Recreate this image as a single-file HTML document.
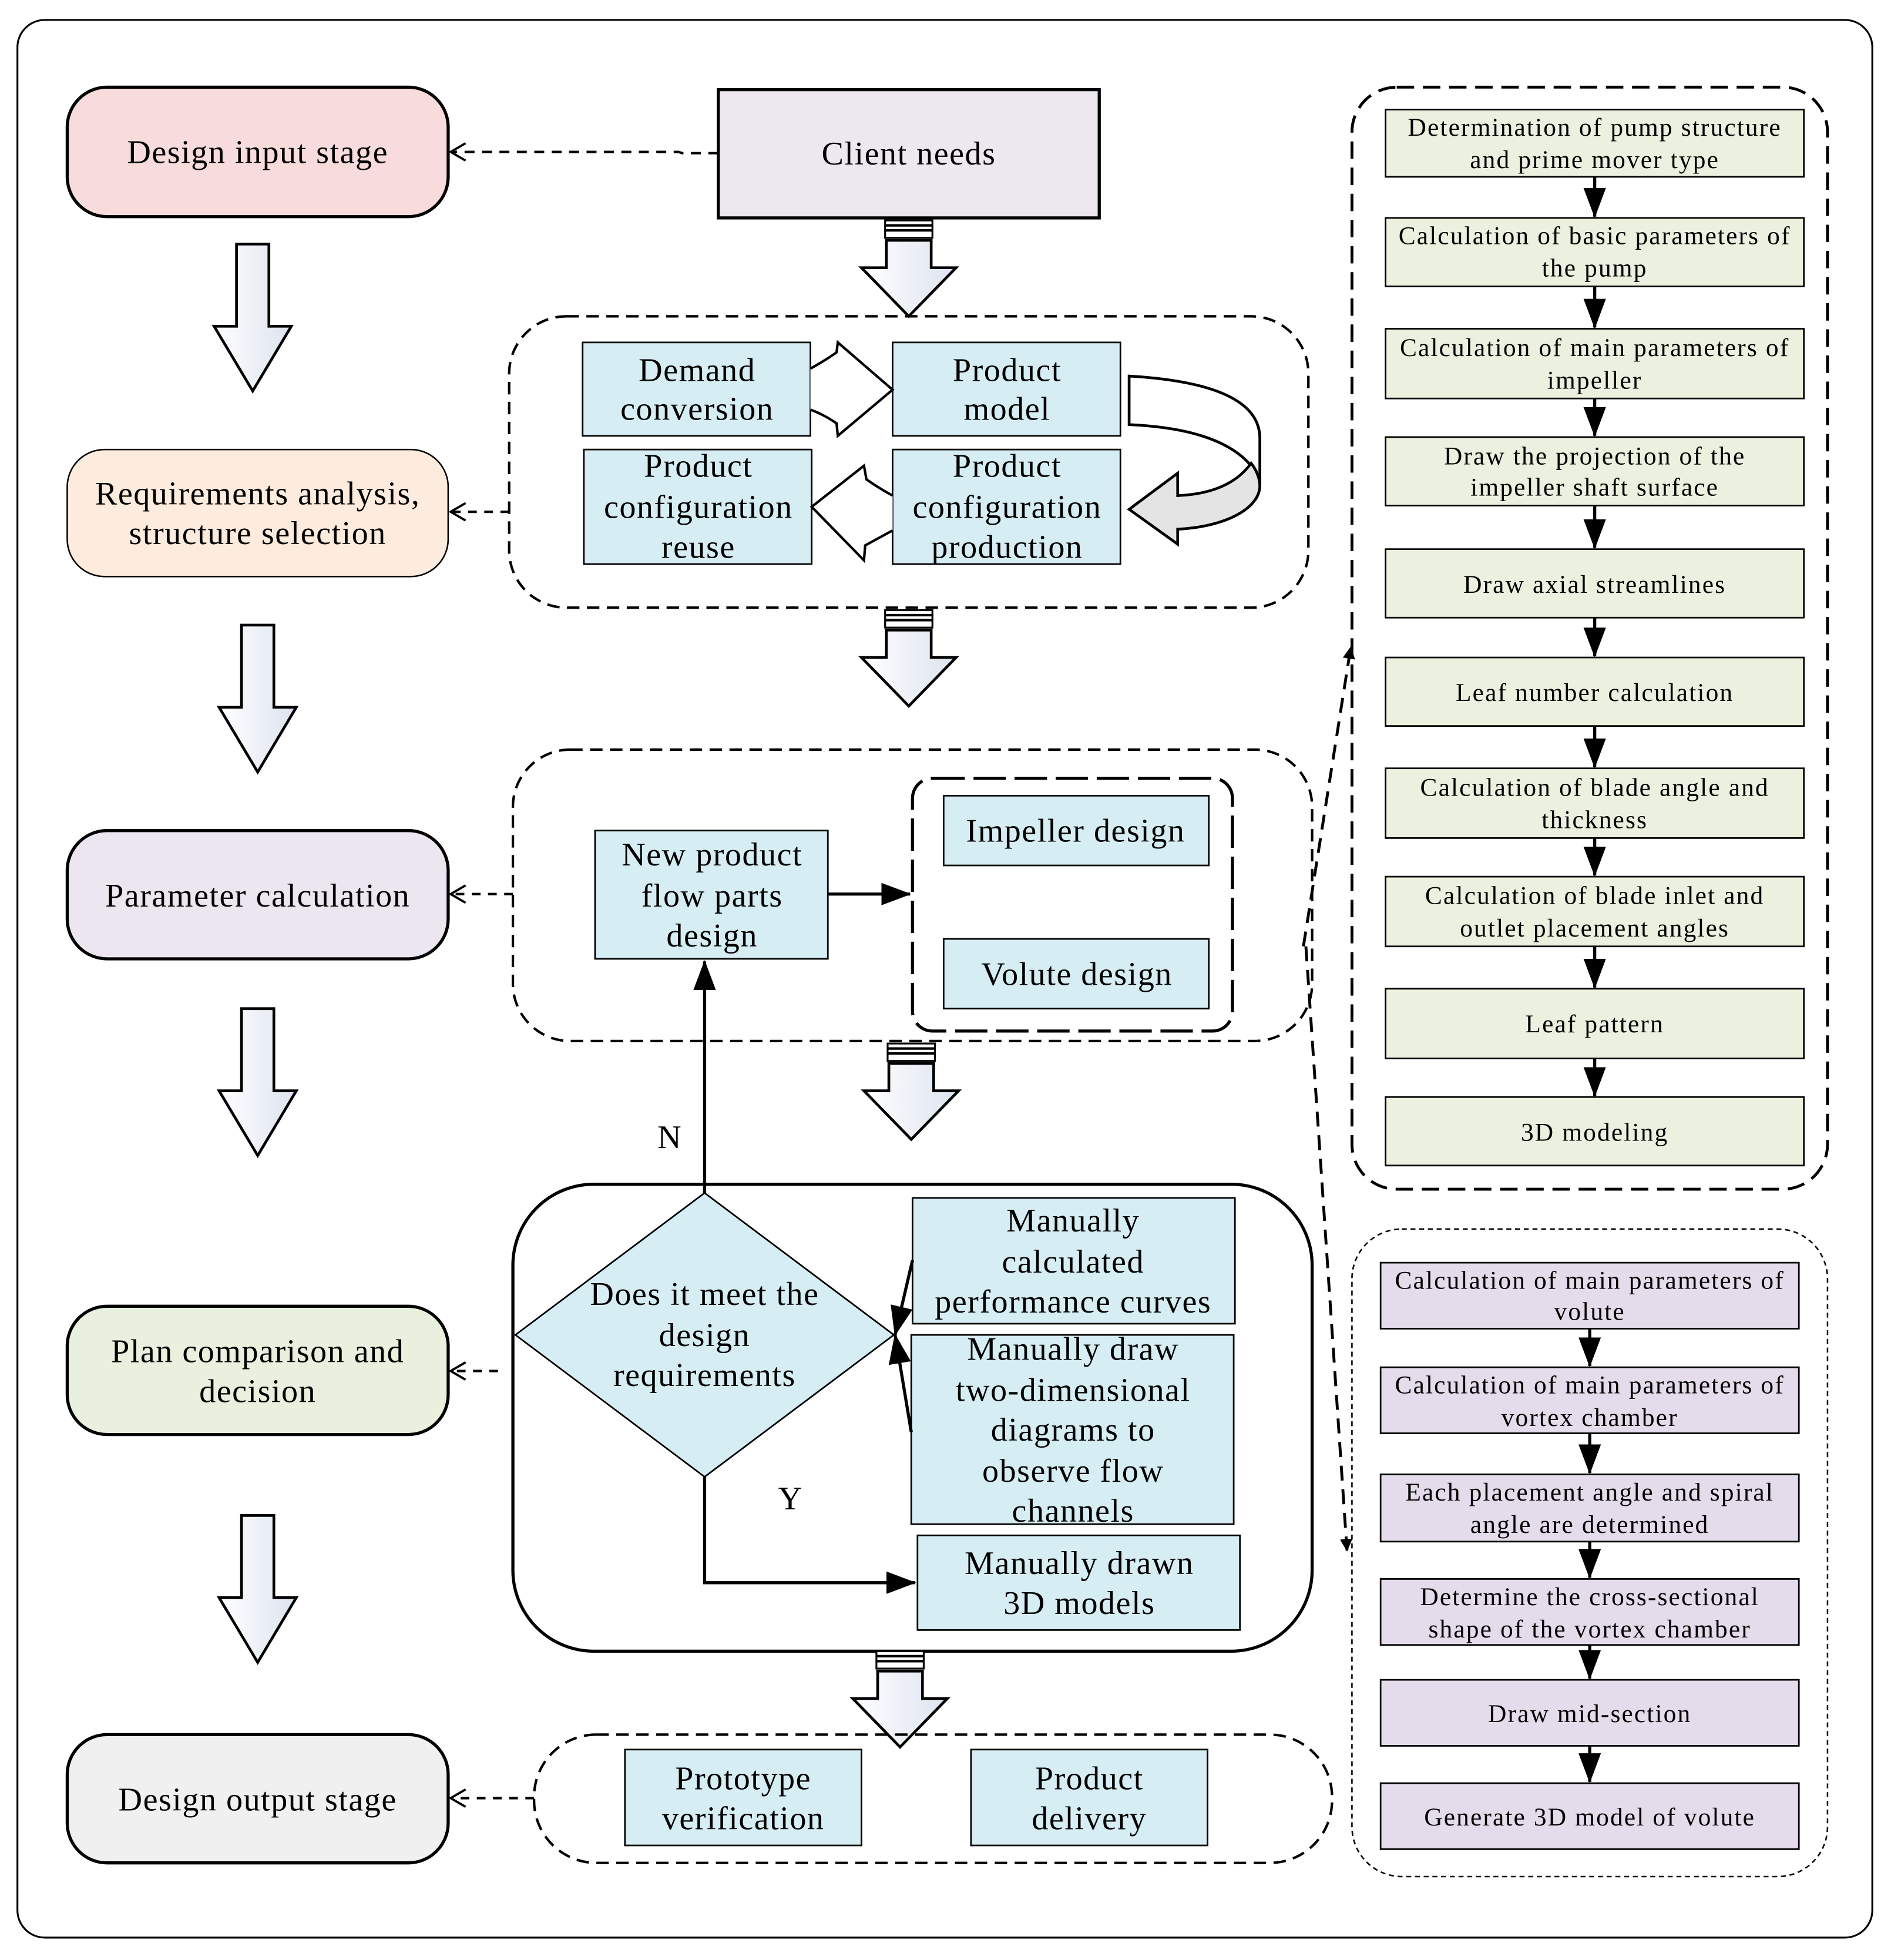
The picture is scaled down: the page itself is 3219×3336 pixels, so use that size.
<!DOCTYPE html>
<html><head><meta charset="utf-8"><style>
html,body{margin:0;padding:0;background:#fff}
svg{display:block}
text{font-family:"Liberation Serif",serif;fill:#000}
.m{font-size:26.5px;letter-spacing:0.7px}
.s{font-size:20.5px;letter-spacing:1px}
</style></head><body>
<svg width="3219" height="3336" viewBox="0 0 1519 1574" preserveAspectRatio="none" xmlns="http://www.w3.org/2000/svg">
<defs>
<linearGradient id="g" x1="0" x2="1"><stop offset="0" stop-color="#fff"/><stop offset="1" stop-color="#dde3ef"/></linearGradient>
<marker id="ah" markerWidth="10" markerHeight="10" refX="9" refY="5" orient="auto" markerUnits="userSpaceOnUse"><path d="M0,0 L10,5 L0,10 Z" fill="#000"/></marker>
<marker id="ab" markerWidth="24" markerHeight="18" refX="23" refY="9" orient="auto" markerUnits="userSpaceOnUse"><path d="M0,0 L24,9 L0,18 Z" fill="#000"/></marker>
<marker id="ao" markerWidth="14" markerHeight="16" refX="13" refY="8" orient="auto" markerUnits="userSpaceOnUse"><path d="M1,1 L13,8 L1,15" fill="none" stroke="#000" stroke-width="1.8"/></marker>
<g id="bigdown"><path d="M-13,0 H13 V66 H31 L0,118 L-31,66 H-13 Z" fill="url(#g)" stroke="#000" stroke-width="2.2"/></g>
<g id="middown"><rect x="-19" y="0" width="38" height="14" fill="#fff" stroke="#000" stroke-width="1.5"/><line x1="-19" y1="4" x2="19" y2="4" stroke="#000" stroke-width="2"/><line x1="-19" y1="8" x2="19" y2="8" stroke="#000" stroke-width="2"/><path d="M-18,16 H18 V38 H38 L0,77 L-38,38 H-18 Z" fill="url(#g)" stroke="#000" stroke-width="2.2"/></g>
</defs>
<rect x="14" y="16" width="1490" height="1540" rx="22" fill="#fff" stroke="#000" stroke-width="1.5"/>

<!-- left stage boxes -->
<rect x="54" y="70" width="306" height="104" rx="32" fill="#f8dcdb" stroke="#000" stroke-width="2.5"/>
<text class="m" x="207" y="131" text-anchor="middle">Design input stage</text>
<rect x="54" y="361" width="306" height="102" rx="30" fill="#fdebdd" stroke="#000" stroke-width="1.2"/>
<text class="m" x="207" y="405" text-anchor="middle">Requirements analysis,</text>
<text class="m" x="207" y="437" text-anchor="middle">structure selection</text>
<rect x="54" y="667" width="306" height="103" rx="32" fill="#ece6f0" stroke="#000" stroke-width="2.5"/>
<text class="m" x="207" y="728" text-anchor="middle">Parameter calculation</text>
<rect x="54" y="1049" width="306" height="103" rx="32" fill="#e9f0de" stroke="#000" stroke-width="2.5"/>
<text class="m" x="207" y="1094" text-anchor="middle">Plan comparison and</text>
<text class="m" x="207" y="1126" text-anchor="middle">decision</text>
<rect x="54" y="1393" width="306" height="103" rx="32" fill="#f0f0f0" stroke="#000" stroke-width="2.5"/>
<text class="m" x="207" y="1454" text-anchor="middle">Design output stage</text>

<use href="#bigdown" x="203" y="196"/>
<use href="#bigdown" x="207" y="502"/>
<use href="#bigdown" x="207" y="810"/>
<use href="#bigdown" x="207" y="1217"/>

<!-- client needs -->
<rect x="577" y="72" width="306" height="103" fill="#ede8f0" stroke="#000" stroke-width="2.5"/>
<text class="m" x="730" y="132" text-anchor="middle">Client needs</text>
<path d="M577,123 H548 L545,122 H362" fill="none" stroke="#000" stroke-width="2" stroke-dasharray="8,6" marker-end="url(#ao)"/>

<use href="#middown" x="730" y="177"/>

<!-- group1 -->
<rect x="409" y="254" width="642" height="234" rx="46" fill="none" stroke="#000" stroke-width="2" stroke-dasharray="10,6"/>
<path d="M409,411 H362" stroke="#000" stroke-width="2" stroke-dasharray="7,6" marker-end="url(#ao)"/>
<rect x="468" y="275" width="183" height="75" fill="#d6eef3" stroke="#000" stroke-width="1.3"/>
<text class="m" x="560" y="306" text-anchor="middle">Demand</text>
<text class="m" x="560" y="337" text-anchor="middle">conversion</text>
<rect x="717" y="275" width="183" height="75" fill="#d6eef3" stroke="#000" stroke-width="1.3"/>
<text class="m" x="809" y="306" text-anchor="middle">Product</text>
<text class="m" x="809" y="337" text-anchor="middle">model</text>
<rect x="469" y="361" width="183" height="92" fill="#d6eef3" stroke="#000" stroke-width="1.3"/>
<text class="m" x="561" y="383" text-anchor="middle">Product</text>
<text class="m" x="561" y="416" text-anchor="middle">configuration</text>
<text class="m" x="561" y="448" text-anchor="middle">reuse</text>
<rect x="717" y="361" width="183" height="92" fill="#d6eef3" stroke="#000" stroke-width="1.3"/>
<text class="m" x="809" y="383" text-anchor="middle">Product</text>
<text class="m" x="809" y="416" text-anchor="middle">configuration</text>
<text class="m" x="809" y="448" text-anchor="middle">production</text>
<!-- hollow arrows -->
<path d="M651,296 Q662,290 672,283 L673,275 L717,313 L673,350 L672,340 Q662,333 651,329" fill="#fff" stroke="#000" stroke-width="2"/>
<path d="M717,398 Q706,392 696,385 L694,374 L652,407 L694,450 L695,438 Q706,432 717,426" fill="#fff" stroke="#000" stroke-width="2"/>
<!-- curved arrow -->
<path d="M907,302 C975,306 1012,322 1012,352 V392 L1008,378 C990,352 950,343 907,341 Z" fill="#fff" stroke="#000" stroke-width="2.2"/>
<path d="M1005,372 C992,390 970,397 946,398 V380 L907,409 L946,437 V425 C985,423 1012,408 1012,390 C1012,384 1009,377 1005,372 Z" fill="#e4e4e4" stroke="#000" stroke-width="2.2"/>

<use href="#middown" x="730" y="490"/>

<!-- group2 -->
<rect x="412" y="602" width="642" height="234" rx="46" fill="none" stroke="#000" stroke-width="2" stroke-dasharray="10,6"/>
<path d="M412,718 H362" stroke="#000" stroke-width="2" stroke-dasharray="7,6" marker-end="url(#ao)"/>
<rect x="478" y="667" width="187" height="103" fill="#d6eef3" stroke="#000" stroke-width="1.3"/>
<text class="m" x="572" y="695" text-anchor="middle">New product</text>
<text class="m" x="572" y="728" text-anchor="middle">flow parts</text>
<text class="m" x="572" y="760" text-anchor="middle">design</text>
<line x1="665" y1="718" x2="731" y2="718" stroke="#000" stroke-width="2.5" marker-end="url(#ab)"/>
<rect x="733" y="625" width="257" height="203" rx="16" fill="none" stroke="#000" stroke-width="2.5" stroke-dasharray="26,7"/>
<rect x="758" y="639" width="213" height="56" fill="#d6eef3" stroke="#000" stroke-width="1.3"/>
<text class="m" x="864" y="676" text-anchor="middle">Impeller design</text>
<rect x="758" y="754" width="213" height="56" fill="#d6eef3" stroke="#000" stroke-width="1.3"/>
<text class="m" x="865" y="791" text-anchor="middle">Volute design</text>

<use href="#middown" x="732" y="838"/>

<!-- solid group -->
<rect x="412" y="951" width="642" height="375" rx="65" fill="#fff" stroke="#000" stroke-width="2.5"/>
<path d="M400,1101 H362" stroke="#000" stroke-width="2" stroke-dasharray="7,6" marker-end="url(#ao)"/>
<polygon points="566,958 718,1072 566,1186 414,1072" fill="#d6eef3" stroke="#000" stroke-width="1.3"/>
<text class="m" x="566" y="1048" text-anchor="middle">Does it meet the</text>
<text class="m" x="566" y="1081" text-anchor="middle">design</text>
<text class="m" x="566" y="1113" text-anchor="middle">requirements</text>
<line x1="566" y1="958" x2="566" y2="772" stroke="#000" stroke-width="2.5" marker-end="url(#ab)"/>
<text class="m" x="538" y="922" text-anchor="middle">N</text>
<path d="M566,1186 V1271 H735" fill="none" stroke="#000" stroke-width="2.5" marker-end="url(#ab)"/>
<text class="m" x="635" y="1212" text-anchor="middle">Y</text>
<rect x="733" y="962" width="259" height="101" fill="#d6eef3" stroke="#000" stroke-width="1.3"/>
<text class="m" x="862" y="989" text-anchor="middle">Manually</text>
<text class="m" x="862" y="1022" text-anchor="middle">calculated</text>
<text class="m" x="862" y="1054" text-anchor="middle">performance curves</text>
<rect x="732" y="1072" width="259" height="152" fill="#d6eef3" stroke="#000" stroke-width="1.3"/>
<text class="m" x="862" y="1092" text-anchor="middle">Manually draw</text>
<text class="m" x="862" y="1125" text-anchor="middle">two-dimensional</text>
<text class="m" x="862" y="1157" text-anchor="middle">diagrams to</text>
<text class="m" x="862" y="1190" text-anchor="middle">observe flow</text>
<text class="m" x="862" y="1222" text-anchor="middle">channels</text>
<rect x="737" y="1233" width="259" height="76" fill="#d6eef3" stroke="#000" stroke-width="1.3"/>
<text class="m" x="867" y="1264" text-anchor="middle">Manually drawn</text>
<text class="m" x="867" y="1296" text-anchor="middle">3D models</text>
<line x1="733" y1="1012" x2="719" y2="1072" stroke="#000" stroke-width="2.5" marker-end="url(#ab)"/>
<line x1="732" y1="1150" x2="719" y2="1072" stroke="#000" stroke-width="2.5" marker-end="url(#ab)"/>

<use href="#middown" x="723" y="1326"/>

<!-- group5 -->
<rect x="429" y="1393" width="641" height="103" rx="50" fill="none" stroke="#000" stroke-width="2" stroke-dasharray="10,6"/>
<path d="M429,1444 H362" stroke="#000" stroke-width="2" stroke-dasharray="7,6" marker-end="url(#ao)"/>
<rect x="502" y="1405" width="190" height="77" fill="#d6eef3" stroke="#000" stroke-width="1.3"/>
<text class="m" x="597" y="1437" text-anchor="middle">Prototype</text>
<text class="m" x="597" y="1469" text-anchor="middle">verification</text>
<rect x="780" y="1405" width="190" height="77" fill="#d6eef3" stroke="#000" stroke-width="1.3"/>
<text class="m" x="875" y="1437" text-anchor="middle">Product</text>
<text class="m" x="875" y="1469" text-anchor="middle">delivery</text>

<!-- leaders to right panels -->
<path d="M1047,760 L1085,520" fill="none" stroke="#000" stroke-width="2.3" stroke-dasharray="12,7" marker-end="url(#ah)"/>
<path d="M1049,760 L1082,1245" fill="none" stroke="#000" stroke-width="2.3" stroke-dasharray="12,7" marker-end="url(#ah)"/>

<!-- right top panel -->
<rect x="1086" y="70" width="382" height="885" rx="36" fill="none" stroke="#000" stroke-width="2.3" stroke-dasharray="14,7"/>
<g fill="#ebf1de" stroke="#000" stroke-width="1.3">
<rect x="1113" y="88" width="336" height="54"/><rect x="1113" y="175" width="336" height="55"/><rect x="1113" y="264" width="336" height="56"/><rect x="1113" y="351" width="336" height="55"/><rect x="1113" y="441" width="336" height="55"/><rect x="1113" y="528" width="336" height="55"/><rect x="1113" y="617" width="336" height="56"/><rect x="1113" y="704" width="336" height="56"/><rect x="1113" y="794" width="336" height="56"/><rect x="1113" y="881" width="336" height="55"/>
</g>
<g stroke="#000" stroke-width="2.5">
<line x1="1281" y1="142" x2="1281" y2="174" marker-end="url(#ab)"/><line x1="1281" y1="230" x2="1281" y2="263" marker-end="url(#ab)"/><line x1="1281" y1="320" x2="1281" y2="350" marker-end="url(#ab)"/><line x1="1281" y1="406" x2="1281" y2="440" marker-end="url(#ab)"/><line x1="1281" y1="496" x2="1281" y2="527" marker-end="url(#ab)"/><line x1="1281" y1="583" x2="1281" y2="616" marker-end="url(#ab)"/><line x1="1281" y1="673" x2="1281" y2="703" marker-end="url(#ab)"/><line x1="1281" y1="760" x2="1281" y2="793" marker-end="url(#ab)"/><line x1="1281" y1="850" x2="1281" y2="880" marker-end="url(#ab)"/>
</g>
<text class="s" x="1281" y="109" text-anchor="middle">Determination of pump structure</text>
<text class="s" x="1281" y="135" text-anchor="middle">and prime mover type</text>
<text class="s" x="1281" y="196" text-anchor="middle">Calculation of basic parameters of</text>
<text class="s" x="1281" y="222" text-anchor="middle">the pump</text>
<text class="s" x="1281" y="286" text-anchor="middle">Calculation of main parameters of</text>
<text class="s" x="1281" y="312" text-anchor="middle">impeller</text>
<text class="s" x="1281" y="373" text-anchor="middle">Draw the projection of the</text>
<text class="s" x="1281" y="398" text-anchor="middle">impeller shaft surface</text>
<text class="s" x="1281" y="476" text-anchor="middle">Draw axial streamlines</text>
<text class="s" x="1281" y="563" text-anchor="middle">Leaf number calculation</text>
<text class="s" x="1281" y="639" text-anchor="middle">Calculation of blade angle and</text>
<text class="s" x="1281" y="665" text-anchor="middle">thickness</text>
<text class="s" x="1281" y="726" text-anchor="middle">Calculation of blade inlet and</text>
<text class="s" x="1281" y="752" text-anchor="middle">outlet placement angles</text>
<text class="s" x="1281" y="829" text-anchor="middle">Leaf pattern</text>
<text class="s" x="1281" y="916" text-anchor="middle">3D modeling</text>

<!-- right bottom panel -->
<rect x="1086" y="987" width="382" height="520" rx="40" fill="none" stroke="#000" stroke-width="1.2" stroke-dasharray="4,3"/>
<g fill="#e4dcea" stroke="#000" stroke-width="1.3">
<rect x="1109" y="1014" width="336" height="53"/><rect x="1109" y="1098" width="336" height="53"/><rect x="1109" y="1184" width="336" height="54"/><rect x="1109" y="1268" width="336" height="53"/><rect x="1109" y="1349" width="336" height="53"/><rect x="1109" y="1432" width="336" height="53"/>
</g>
<g stroke="#000" stroke-width="2.5">
<line x1="1277" y1="1067" x2="1277" y2="1097" marker-end="url(#ab)"/><line x1="1277" y1="1151" x2="1277" y2="1183" marker-end="url(#ab)"/><line x1="1277" y1="1238" x2="1277" y2="1267" marker-end="url(#ab)"/><line x1="1277" y1="1321" x2="1277" y2="1348" marker-end="url(#ab)"/><line x1="1277" y1="1402" x2="1277" y2="1431" marker-end="url(#ab)"/>
</g>
<text class="s" x="1277" y="1035" text-anchor="middle">Calculation of main parameters of</text>
<text class="s" x="1277" y="1060" text-anchor="middle">volute</text>
<text class="s" x="1277" y="1119" text-anchor="middle">Calculation of main parameters of</text>
<text class="s" x="1277" y="1145" text-anchor="middle">vortex chamber</text>
<text class="s" x="1277" y="1205" text-anchor="middle">Each placement angle and spiral</text>
<text class="s" x="1277" y="1231" text-anchor="middle">angle are determined</text>
<text class="s" x="1277" y="1289" text-anchor="middle">Determine the cross-sectional</text>
<text class="s" x="1277" y="1315" text-anchor="middle">shape of the vortex chamber</text>
<text class="s" x="1277" y="1383" text-anchor="middle">Draw mid-section</text>
<text class="s" x="1277" y="1466" text-anchor="middle">Generate 3D model of volute</text>
</svg>
</body></html>
